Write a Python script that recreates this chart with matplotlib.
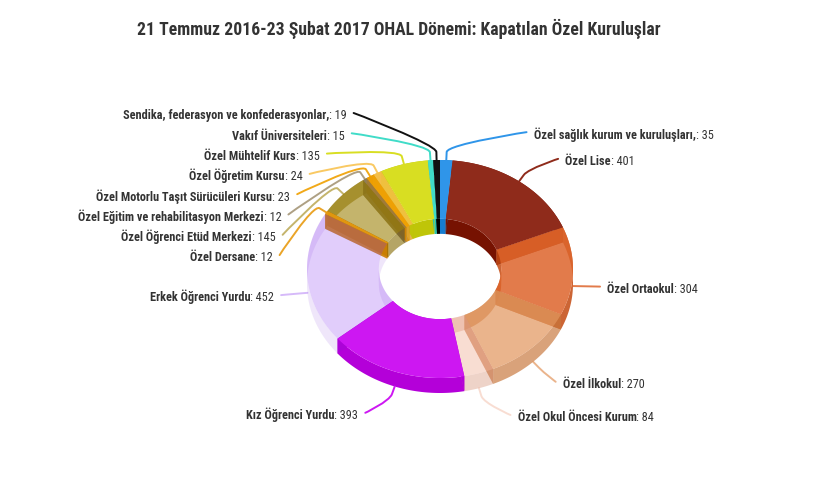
import numpy as np
import matplotlib
matplotlib.use("Agg")
import matplotlib.pyplot as plt
from matplotlib.patches import Polygon, PathPatch
from matplotlib.path import Path
import matplotlib.colors as mcolors

# ---------------- data ----------------
title = "21 Temmuz 2016-23 Şubat 2017 OHAL Dönemi: Kapatılan Özel Kuruluşlar"
categories = [
    "Özel sağlık kurum ve kuruluşları,", "Özel Lise", "Özel Ortaokul", "Özel İlkokul",
    "Özel Okul Öncesi Kurum", "Kız Öğrenci Yurdu", "Erkek Öğrenci Yurdu", "Özel Dersane",
    "Özel Öğrenci Etüd Merkezi", "Özel Eğitim ve rehabilitasyon Merkezi",
    "Özel Motorlu Taşıt Sürücüleri Kursu", "Özel Öğretim Kursu", "Özel Mühtelif Kurs",
    "Vakıf Üniversiteleri", "Sendika, federasyon ve konfederasyonlar,",
]
values = [35, 401, 304, 270, 84, 393, 452, 12, 145, 12, 23, 24, 135, 15, 19]
colors = ["#2F95E9", "#8F2B1B", "#DD642B", "#E2945B", "#EFAA90", "#CD17F2", "#8A3AF0",
          "#E89A10", "#9D820A", "#8C7850", "#F0A000", "#F8C048", "#D8DE22", "#40DCC8",
          "#111111"]
alphas = [1.0, 1.0, 0.85, 0.7, 0.4, 1.0, 0.25, 0.9, 0.6, 0.7, 0.9, 0.85, 1.0, 1.0, 1.0]
wall_alphas = [1.0, 1.0, 0.85, 0.7, 0.4, 1.0, 0.11, 0.9, 0.6, 0.7, 0.9, 0.85, 1.0, 1.0, 1.0]

# ---------------- layout ----------------
W, H = 837, 496
CX, CY = 440.0, 269.0
RX, RY = 133.0, 109.0
INNER = 0.46
DEPTH = 15.0
LDIST = 30.0
LABEL_H = 20.3
YMIN, YMAX = 113.0, 480.0
TEXT_COLOR = "#333333"

plt.rcParams["font.family"] = ["Roboto Condensed", "Liberation Sans Narrow", "Roboto", "DejaVu Sans"]

fig = plt.figure(figsize=(W / 100, H / 100), dpi=100)
ax = fig.add_axes([0, 0, 1, 1])
ax.set_xlim(0, W)
ax.set_ylim(H, 0)
ax.axis("off")
renderer = fig.canvas.get_renderer()


def text_w(s, size, weight):
    t = ax.text(0, 0, s, fontsize=size, fontweight=weight)
    w = t.get_window_extent(renderer).width
    t.remove()
    return w


def pt(th, r, bottom=False):
    t = np.radians(th)
    return (CX + RX * r * np.sin(t), CY - RY * r * np.cos(t) + (DEPTH if bottom else 0.0))


def arc(t1, t2, r, bottom=False):
    n = max(2, int(abs(t2 - t1) / 0.8) + 2)
    return [pt(t, r, bottom) for t in np.linspace(t1, t2, n)]


def split(t1, t2):
    cuts = [c for c in (90.0, 270.0) if t1 < c < t2]
    edges = [t1] + cuts + [t2]
    return list(zip(edges[:-1], edges[1:]))


def poly(pts, color, alpha, z):
    ax.add_patch(Polygon(pts, closed=True, facecolor=color, alpha=alpha,
                         edgecolor="none", linewidth=0, zorder=z))


total = float(sum(values))
cum = np.concatenate([[0.0], np.cumsum(values)])
starts = cum[:-1] / total * 360.0
ends = cum[1:] / total * 360.0
n = len(values)

walls = []
faces = []
for i in range(n):
    base = np.array(mcolors.to_rgb(colors[i]))
    side = np.clip(base - 0.1, 0, 1)
    a = wall_alphas[i]
    t1, t2 = starts[i], ends[i]
    for (p, q) in split(t1, t2):
        for r in (1.0, INNER):
            pts = arc(p, q, r) + arc(q, p, r, True)
            key = np.mean([pp[1] for pp in pts])
            walls.append((key, i, pts, side, a))
    mr = (1.0 + INNER) / 2.0
    for th in (t1, t2):
        pts = [pt(th, INNER), pt(th, 1.0), pt(th, 1.0, True), pt(th, INNER, True)]
        key = pt(th, mr)[1]
        faces.append((key, i, pts, side, a))

for key, i, pts, col, a in sorted(walls, key=lambda w: (w[0], w[1])):
    poly(pts, col, a, 2)
for key, i, pts, col, a in sorted(faces, key=lambda w: (round(w[0], 6), w[1])):
    poly(pts, col, a, 2.5)

# tops
for i in range(n):
    t1, t2 = starts[i], ends[i]
    poly(arc(t1, t2, 1.0) + arc(t2, t1, INNER), colors[i], alphas[i], 3)

# ---------------- fonts ----------------
tsize = 14.4
tsize = min(15.5, tsize * 520.0 / text_w(title, tsize, "bold"))
lsize = 9.0
lw_ref = text_w(categories[-1], lsize, "bold") + text_w(": %d" % values[-1], lsize, "normal")
lsize = min(10.0, lsize * 223.0 / lw_ref)
lpx = lsize / 0.72

ax.text(398.5, 35, title, fontsize=tsize, fontweight="bold", color=TEXT_COLOR,
        ha="center", va="baseline")

# ---------------- labels ----------------
mids = (starts + ends) / 2.0
info = []
for i in range(n):
    th = mids[i]
    front = np.cos(np.radians(th)) < 0
    ax_, ay_ = pt(th, 1.0, front)
    ny = ay_ - 28.0 * np.cos(np.radians(th))
    info.append(dict(anchor=(ax_, ay_), ny=ny, left=th > 180.0))


def distribute(idxs):
    items = sorted(idxs, key=lambda k: info[k]["ny"])
    clusters = [[k] for k in items]

    def start_of(cl):
        m = np.mean([info[k]["ny"] for k in cl])
        s = m - (len(cl) - 1) * LABEL_H / 2.0
        return max(YMIN, min(s, YMAX - (len(cl) - 1) * LABEL_H))

    changed = True
    while changed:
        changed = False
        for k in range(len(clusters) - 1):
            e1 = start_of(clusters[k]) + (len(clusters[k]) - 1) * LABEL_H
            s2 = start_of(clusters[k + 1])
            if s2 - e1 < LABEL_H:
                clusters[k] = clusters[k] + clusters[k + 1]
                del clusters[k + 1]
                changed = True
                break
    for cl in clusters:
        s = start_of(cl)
        for j, k in enumerate(cl):
            info[k]["y"] = s + j * LABEL_H


distribute([i for i in range(n) if info[i]["left"]])
distribute([i for i in range(n) if not info[i]["left"]])

R2 = RX + LDIST
for i in range(n):
    d = info[i]
    y = d["y"]
    yx = d["ny"] if (y < YMIN + 2 or y > YMAX - 2) else y
    c = np.cos(np.arcsin(np.clip((yx - CY) / R2, -1, 1)))
    sgn = -1 if d["left"] else 1
    tx = CX + sgn * (R2 * c + 5)
    lx = tx - sgn * 7
    A = np.array(d["anchor"])
    th = np.radians(mids[i])
    dv = np.array([np.sin(th), -np.cos(th)])
    B = A + 8.0 * dv
    C2 = 2 * B - A
    L = np.array([lx, y])
    path = Path([tuple(L), tuple(L), tuple(C2), tuple(B), tuple(A)],
                [Path.MOVETO, Path.CURVE4, Path.CURVE4, Path.CURVE4, Path.LINETO])
    rgb = mcolors.to_rgb(colors[i])
    ax.add_patch(PathPatch(path, facecolor="none", edgecolor=rgb, alpha=max(alphas[i], 0.35),
                           linewidth=1.4, zorder=5, capstyle="round"))
    base_y = y + 0.36 * lpx + 2.0
    name = categories[i]
    val = ": %d" % values[i]
    if d["left"]:
        t = ax.text(tx, base_y, val, fontsize=lsize, color=TEXT_COLOR, ha="right", va="baseline", zorder=6)
        wv = t.get_window_extent(renderer).width
        ax.text(tx - wv, base_y, name, fontsize=lsize, fontweight="bold", color=TEXT_COLOR,
                ha="right", va="baseline", zorder=6)
    else:
        t = ax.text(tx, base_y, name, fontsize=lsize, fontweight="bold", color=TEXT_COLOR,
                    ha="left", va="baseline", zorder=6)
        wn = t.get_window_extent(renderer).width
        ax.text(tx + wn, base_y, val, fontsize=lsize, color=TEXT_COLOR, ha="left", va="baseline", zorder=6)

fig.savefig("out.png", dpi=100, facecolor="white")
